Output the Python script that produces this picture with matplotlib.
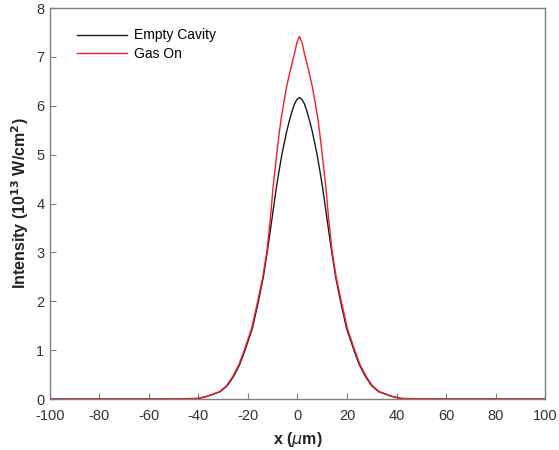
import matplotlib.pyplot as plt

plt.rcParams['font.family'] = ['Liberation Sans', 'DejaVu Sans']
plt.rcParams['axes.unicode_minus'] = False

# beam centre (um)
center = 0.8

# empty cavity: intensity level and half-width (um) at that level
black_level = [0.0, 0.01, 0.05, 0.15, 0.27, 0.456, 0.70, 1.0, 1.45, 2.02, 2.50, 3.05,
               3.73, 4.34, 4.68, 5.02, 5.25, 5.47, 5.71, 5.89, 6.04, 6.13, 6.17]
black_halfw = [60, 41.0, 37.5, 32.0, 29.2, 26.7, 24.2, 22.0, 19.0, 16.5, 14.6, 12.9,
               11.0, 9.3, 8.2, 7.05, 6.1, 5.2, 4.0, 3.0, 2.0, 1.0, 0.0]

# gas on
red_level = [0.0, 0.01, 0.05, 0.15, 0.27, 0.456, 0.70, 1.0, 1.45, 2.02, 2.50, 3.05,
             3.73, 4.34, 4.68, 5.02, 5.37, 5.71, 6.05, 6.39, 6.75, 7.07, 7.30, 7.42]
red_halfw = [60, 41.5, 37.8, 32.3, 29.5, 27.0, 24.5, 22.3, 19.3, 16.8, 14.8, 13.1,
             11.7, 10.65, 9.9, 9.15, 8.35, 7.5, 6.4, 5.2, 3.6, 2.0, 1.0, 0.0]

x_range = [-100, 100]


def profile(level, halfw):
    # left flank then mirrored right flank
    xs = [center - w for w in halfw] + [center + w for w in reversed(halfw[:-1])]
    ys = list(level) + list(reversed(level[:-1]))
    xs = [x_range[0]] + xs + [x_range[1]]
    ys = [0.0] + ys + [0.0]
    return xs, ys


fig = plt.figure(figsize=(5.59, 4.5), dpi=100)
ax = fig.add_axes([0.0894, 0.1133, 0.8856, 0.8687])

bx, by = profile(black_level, black_halfw)
rx, ry = profile(red_level, red_halfw)
ax.plot(bx, by, color='#1a1a1a', lw=1.0, label='Empty Cavity')
ax.plot(rx, ry, color='#f0202a', lw=1.0, label='Gas On')

ax.set_xlim(-100, 100)
ax.set_ylim(0, 8)
ax.set_xticks(range(-100, 101, 20))
ax.set_yticks(range(0, 9))

for s in ax.spines.values():
    s.set_color('#7f7f7f')
    s.set_linewidth(1.0)
ax.tick_params(direction='in', length=4, color='#7f7f7f', labelcolor='#333333',
               labelsize=10.5)
ax.tick_params(axis='x', pad=7)
ax.tick_params(axis='y', pad=4)

ax.set_xlabel(r'x ($\mu$m)', fontsize=11.5, fontweight='bold', color='#222222', labelpad=5)
ax.set_ylabel(r'Intensity (10$^{\mathbf{13}}$ W/cm$^{\mathbf{2}}$)', fontsize=11.5,
              fontweight='bold', color='#222222', labelpad=4)

ax.legend(loc='upper left', frameon=False, fontsize=10, handlelength=3.6,
          handletextpad=0.5, labelspacing=0.35, bbox_to_anchor=(0.03, 0.98))

fig.savefig('out.png', dpi=100)
